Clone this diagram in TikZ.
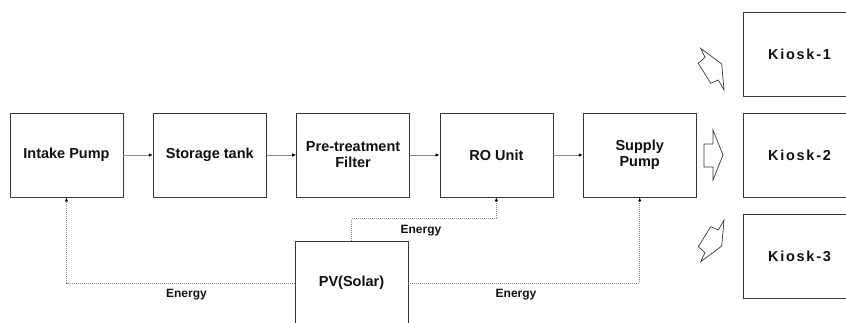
\documentclass[tikz,border=0pt]{standalone}
\usepackage{fontspec}
\setmainfont{Liberation Sans}
\usepackage{tikz}
\usetikzlibrary{arrows.meta,positioning}
\definecolor{Ink}{HTML}{111111}
\definecolor{Frame}{HTML}{3A3A3A}
\definecolor{Wire}{HTML}{8C8C8C}
\tikzset{
  unit/.style={draw=Frame,line width=0.8pt,minimum width=113pt,minimum height=84pt,inner sep=2pt,align=center,fill=white,text=Ink,font=\bfseries\fontsize{14.5}{16}\selectfont},
  kiosk/.style={unit,font=\bfseries\fontsize{14.5}{16}\selectfont\addfontfeature{LetterSpace=12}},
  flowArrow/.style={-{Latex[length=4pt,width=3.5pt,color=black]},draw=Wire,line width=0.7pt},
  energyLine/.style={-{Latex[length=4pt,width=3.5pt,color=black]},draw=Wire,line width=0.7pt,dash pattern=on 1pt off 1pt},
  energyText/.style={text=Ink,font=\bfseries\fontsize{12}{13}\selectfont},
  blockArrow/.style={draw=Frame,line width=0.7pt,fill=white,line join=miter}
}
\begin{document}
\begin{tikzpicture}[x=1pt,y=1pt,node distance=29.5pt]
\useasboundingbox (0,0) rectangle (846,322);
% treatment line
\node[unit] (intake) at (66.5,167) {Intake Pump};
\node[unit,right=of intake] (storage) {Storage tank};
\node[unit,right=of storage] (filter) {Pre-treatment\\Filter};
\node[unit,right=of filter] (ro) {RO Unit};
\node[unit,right=of ro] (supply) {Supply\\Pump};
\draw[flowArrow] (intake)--(storage);\draw[flowArrow] (storage)--(filter);
\draw[flowArrow] (filter)--(ro);\draw[flowArrow] (ro)--(supply);
% kiosks
\node[kiosk] (k1) at (799.5,267.5) {Kiosk-1};
\node[kiosk] (k2) at (799.5,167) {Kiosk-2};
\node[kiosk] (k3) at (799.5,66) {Kiosk-3};
\draw[blockArrow] (700.7,273.7)--(721.7,258)--(724,232)--(718.3,242)--(710.7,238.7)--(698.3,258.7)--(705,264.7)--cycle;
\draw[blockArrow] (704,178)--(713,178)--(713,192)--(723,167)--(713,142)--(713,155)--(704,155)--cycle;
\draw[blockArrow] (700.7,60.3)--(721.7,76)--(724,102)--(718.3,92)--(710.7,95.3)--(698.3,75.3)--(705,69.3)--cycle;
% solar supply
\node[unit] (pv) at (351.5,39) {PV(Solar)};
\draw[energyLine] (pv.west) -| (intake.south);
\draw[energyLine] (pv.north) -- ++(0,22) -| (ro.south);
\draw[energyLine] (pv.east) -| (supply.south);
\node[energyText] (e1) at (186.5,27) {Energy};
\node[energyText] (e2) at (421,91) {Energy};
\node[energyText] (e3) at (516,27) {Energy};
\end{tikzpicture}
\end{document}
